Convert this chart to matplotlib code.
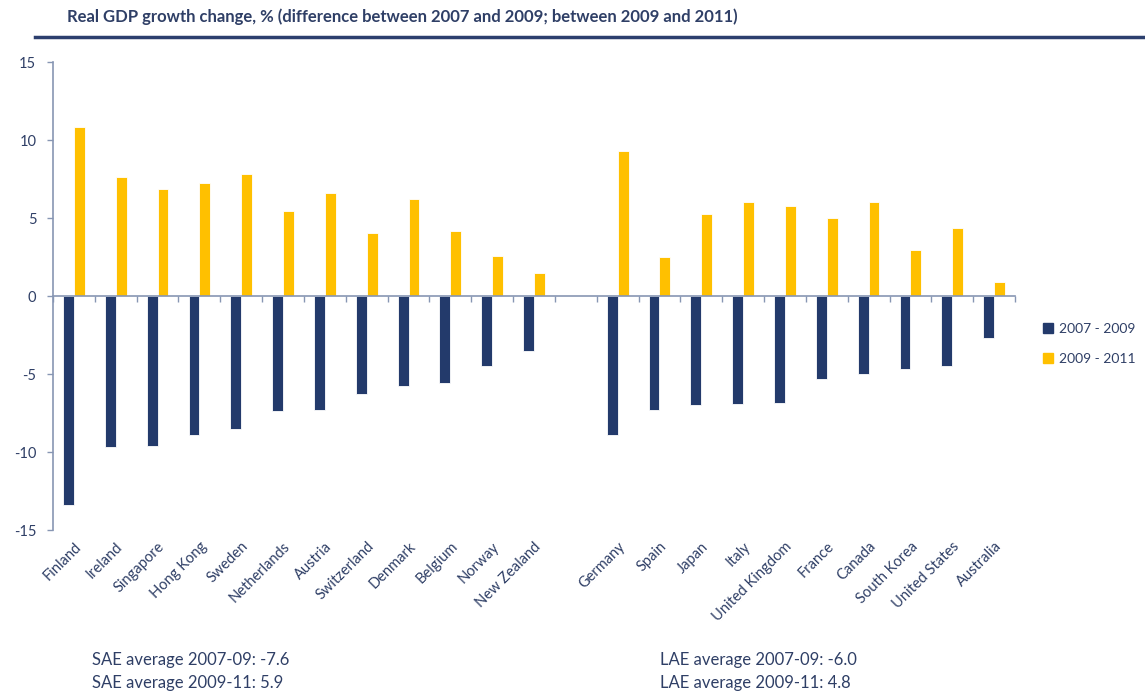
import matplotlib
matplotlib.use('Agg')
import numpy as np
from matplotlib import pyplot as plt
from matplotlib.lines import Line2D

# small advanced economies (SAE) and large advanced economies (LAE)
sae_countries = ['Finland', 'Ireland', 'Singapore', 'Hong Kong', 'Sweden', 'Netherlands',
                 'Austria', 'Switzerland', 'Denmark', 'Belgium', 'Norway', 'New Zealand']
sae_0709 = [-13.4, -9.7, -9.6, -8.9, -8.5, -7.4, -7.3, -6.3, -5.8, -5.6, -4.5, -3.5]
sae_0911 = [10.85, 7.6, 6.85, 7.25, 7.8, 5.45, 6.6, 4.05, 6.25, 4.15, 2.55, 1.5]

lae_countries = ['Germany', 'Spain', 'Japan', 'Italy', 'United Kingdom', 'France',
                 'Canada', 'South Korea', 'United States', 'Australia']
lae_0709 = [-8.9, -7.3, -7.0, -6.95, -6.85, -5.3, -5.0, -4.7, -4.5, -2.7]
lae_0911 = [9.3, 2.5, 5.25, 6.05, 5.8, 5.0, 6.05, 2.95, 4.35, 0.9]

notes_sae = ['SAE average 2007-09: -7.6', 'SAE average 2009-11: 5.9']
notes_lae = ['LAE average 2007-09: -6.0', 'LAE average 2009-11: 4.8']

NAVY = '#233a6b'
GOLD = '#ffc000'
TXT = '#2f3f66'
AXC = '#8796b3'

plt.rcParams['font.family'] = ['Lato', 'DejaVu Sans']
plt.rcParams['axes.unicode_minus'] = False

countries = sae_countries + lae_countries
v1 = sae_0709 + lae_0709
v2 = sae_0911 + lae_0911
# one empty slot between the two groups
x = np.concatenate([np.arange(len(sae_countries)),
                    np.arange(len(lae_countries)) + len(sae_countries) + 1])
nslots = len(sae_countries) + 1 + len(lae_countries)

fig = plt.figure(figsize=(11.45, 6.94), dpi=100)
ax = fig.add_axes([53 / 1145, 1 - 530 / 694, (1015 - 53) / 1145, (530 - 62) / 694])

w = 0.26
ax.bar(x - w / 2, v1, width=w, color=NAVY, edgecolor='white', linewidth=0.6)
ax.bar(x + w / 2, v2, width=w, color=GOLD, edgecolor='white', linewidth=0.6)

ax.set_xlim(-0.5, nslots - 0.5)
ax.set_ylim(-15, 15)
ax.set_yticks(np.arange(-15, 16, 5))

for s in ['top', 'right']:
    ax.spines[s].set_visible(False)
ax.spines['left'].set_color(AXC)
ax.spines['bottom'].set_color(AXC)
ax.spines['left'].set_linewidth(1.2)
ax.spines['bottom'].set_linewidth(1.2)
ax.spines['bottom'].set_position(('data', 0))
ax.set_xticks(np.arange(-0.5, nslots, 1.0))
ax.set_xticklabels([])
ax.tick_params(axis='x', direction='out', length=4, color=AXC, width=1)
ax.tick_params(axis='y', direction='out', length=4, color=AXC, width=1,
               labelcolor=TXT, labelsize=10.5, pad=8)

for xi, name in zip(x, countries):
    ax.text(xi, -0.02, name, transform=ax.get_xaxis_transform(), rotation=45,
            rotation_mode='anchor', ha='right', va='top', fontsize=10.5, color=TXT)

handles = [Line2D([], [], marker='s', linestyle='none', markersize=7, color=NAVY),
           Line2D([], [], marker='s', linestyle='none', markersize=7, color=GOLD)]
fig.legend(handles, ['2007 - 2009', '2009 - 2011'], loc='center left',
           bbox_to_anchor=(1042 / 1145, 1 - 344 / 694), frameon=False,
           fontsize=10, labelcolor=TXT, handlelength=0.8, handletextpad=0.4,
           labelspacing=1.3, borderpad=0, borderaxespad=0)

fig.text(67 / 1145, 1 - 17 / 694, 'Real GDP growth change, % (difference between 2007 and 2009; '
         'between 2009 and 2011)', fontsize=12, fontweight='bold', color=TXT, va='center')
fig.add_artist(Line2D([35 / 1145, 1.0], [1 - 37 / 694, 1 - 37 / 694], color='#2c3f6e',
                      linewidth=2.5, transform=fig.transFigure))

for i, t in enumerate(notes_sae):
    fig.text(92 / 1145, 1 - (660 + 23 * i) / 694, t, fontsize=12, color=TXT, va='center')
for i, t in enumerate(notes_lae):
    fig.text(660 / 1145, 1 - (660 + 23 * i) / 694, t, fontsize=12, color=TXT, va='center')

fig.savefig('out.png', dpi=100)
